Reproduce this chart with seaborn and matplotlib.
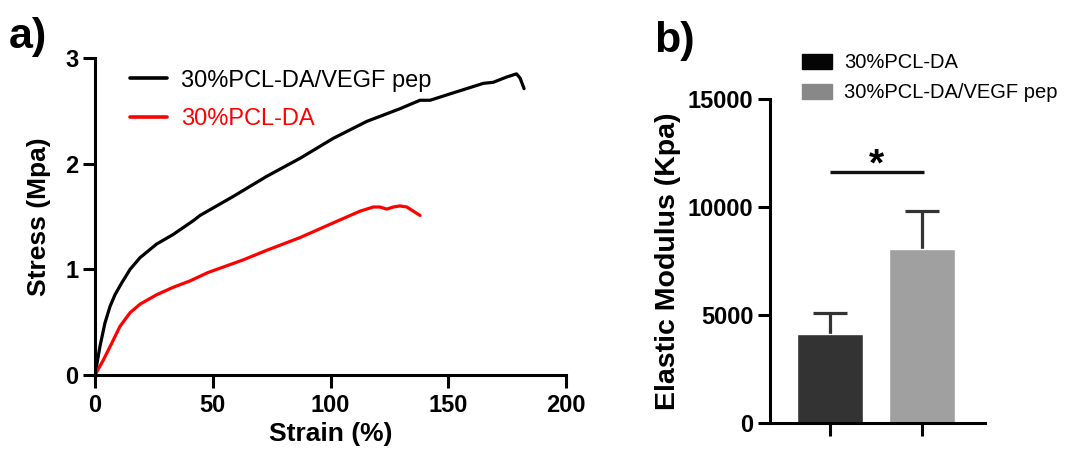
import numpy as np
import pandas as pd
import matplotlib
matplotlib.use("Agg")
import matplotlib.pyplot as plt
import seaborn as sns
from matplotlib.patches import Patch

# ---------------- data ----------------
strain_vegf = [0, 2.1, 4.2, 6.4, 8.5, 11.3, 14.9, 19.1, 26.2, 33.2, 41.7, 44.6, 58.7, 72.9, 87.0,
               101.2, 115.4, 129.5, 138.0, 142.3, 150.7, 157.8, 164.9, 169.1, 174.8, 179.0, 180.5, 182.2]
stress_vegf = [0, 0.27, 0.49, 0.65, 0.76, 0.87, 1.00, 1.11, 1.24, 1.33, 1.46, 1.51, 1.69, 1.88, 2.05,
               2.24, 2.40, 2.52, 2.60, 2.60, 2.66, 2.71, 2.76, 2.77, 2.82, 2.85, 2.81, 2.71]
strain_pcl = [0, 3.5, 7.1, 10.6, 14.9, 19.1, 26.2, 33.2, 40.3, 48.0, 63.0, 72.9, 87.0, 101.2,
              112.5, 118.2, 121.0, 123.9, 126.7, 129.5, 132.4, 135.2, 138.0]
stress_pcl = [0, 0.14, 0.30, 0.46, 0.59, 0.67, 0.76, 0.83, 0.89, 0.97, 1.09, 1.18, 1.30, 1.44,
              1.55, 1.59, 1.59, 1.57, 1.59, 1.60, 1.59, 1.55, 1.51]

line_labels = ["30%PCL-DA/VEGF pep", "30%PCL-DA"]
line_colors = ["#000000", "#ff0000"]

bar_groups = ["30%PCL-DA", "30%PCL-DA/VEGF pep"]
bar_means = [4100, 8050]
bar_err = [1000, 1780]
bar_colors = ["#333333", "#a0a0a0"]
legend_colors = ["#050505", "#888888"]

a_xticks = [0, 50, 100, 150, 200]
a_yticks = [0, 1, 2, 3]
b_yticks = [0, 5000, 10000, 15000]
sig_y = 11600

# ---------------- style ----------------
sns.set_style("ticks")
plt.rcParams["font.family"] = ["Liberation Sans", "DejaVu Sans"]
plt.rcParams["axes.linewidth"] = 2.2
for k in ["text.color", "axes.labelcolor", "xtick.color", "ytick.color", "axes.edgecolor"]:
    plt.rcParams[k] = "black"

fig = plt.figure(figsize=(10.69, 4.49), dpi=100)
W, H = 1069, 449
def ax_rect(l, t, r, b):
    return [l / W, 1 - b / H, (r - l) / W, (b - t) / H]

# ---------------- panel a ----------------
axa = fig.add_axes(ax_rect(95, 58, 566, 375))
df_lines = pd.concat([
    pd.DataFrame({"Strain": strain_vegf, "Stress": stress_vegf, "Group": line_labels[0]}),
    pd.DataFrame({"Strain": strain_pcl, "Stress": stress_pcl, "Group": line_labels[1]}),
])
sns.lineplot(data=df_lines, x="Strain", y="Stress", hue="Group", hue_order=line_labels,
             palette=line_colors, sort=False, estimator=None, linewidth=2.3, ax=axa)
axa.set_xlim(0, 200)
axa.set_ylim(0, 3)
axa.set_xticks(a_xticks)
axa.set_yticks(a_yticks)
axa.tick_params(axis="both", direction="out", length=9, width=2.2, labelsize=17, pad=3)
axa.tick_params(axis="x", pad=5)
for lab in axa.get_xticklabels() + axa.get_yticklabels():
    lab.set_fontweight("bold")
axa.set_xlabel("Strain (%)", fontsize=19, fontweight="bold", labelpad=3)
axa.set_ylabel("Stress (Mpa)", fontsize=19, fontweight="bold", labelpad=10)
sns.despine(ax=axa)
leg = axa.legend(loc="upper left", bbox_to_anchor=(0.03, 1.03), frameon=False,
                 fontsize=17, handlelength=1.55, handletextpad=0.6, labelspacing=0.7,
                 labelcolor="linecolor")
for h in leg.get_lines():
    h.set_linewidth(2.6)

# ---------------- panel b ----------------
axb = fig.add_axes(ax_rect(770, 99, 985, 423))
df_bars = pd.DataFrame({"Group": bar_groups, "Modulus": bar_means})
sns.barplot(data=df_bars, x="Group", y="Modulus", hue="Group", palette=bar_colors,
            width=0.72, errorbar=None, legend=False, ax=axb, zorder=2)
eb = axb.errorbar(np.arange(len(bar_means)), bar_means, yerr=[np.zeros(len(bar_err)), bar_err],
                  fmt="none", ecolor="#333333", elinewidth=2.3, capsize=12, capthick=2.3, zorder=1)
eb[1][0].set_visible(False)  # hide lower caps (one-sided error bars)
axb.set_xlim(-0.652, 1.685)
axb.set_ylim(0, 15000)
axb.set_yticks(b_yticks)
axb.set_xticks([0, 1])
axb.set_xticklabels(["", ""])
axb.tick_params(axis="both", direction="out", length=9, width=2.2, labelsize=17, pad=3)
for lab in axb.get_yticklabels():
    lab.set_fontweight("bold")
axb.set_xlabel("")
axb.set_ylabel("Elastic Modulus (Kpa)", fontsize=20.5, fontweight="bold", labelpad=5)
sns.despine(ax=axb)
axb.plot([0, 1.02], [sig_y, sig_y], color="#111111", lw=2.4, solid_capstyle="butt", clip_on=False)
axb.text(0.5, sig_y - 500, "*", ha="center", va="bottom", fontsize=28, fontweight="bold")

handles = [Patch(facecolor=c, edgecolor=c, label=l) for c, l in zip(legend_colors, bar_groups)]
axb.legend(handles=handles, loc="lower left", bbox_to_anchor=(0.11, 0.965), frameon=False,
           fontsize=14.5, handlelength=1.5, handleheight=0.8, handletextpad=0.6, labelspacing=0.55,
           borderaxespad=0)

# ---------------- panel labels ----------------
fig.text(9 / W, 1 - 17 / H, "a)", fontsize=31, fontweight="bold", va="top", ha="left")
fig.text(654 / W, 1 - 21 / H, "b)", fontsize=31, fontweight="bold", va="top", ha="left")

fig.savefig("out.png", dpi=100)
